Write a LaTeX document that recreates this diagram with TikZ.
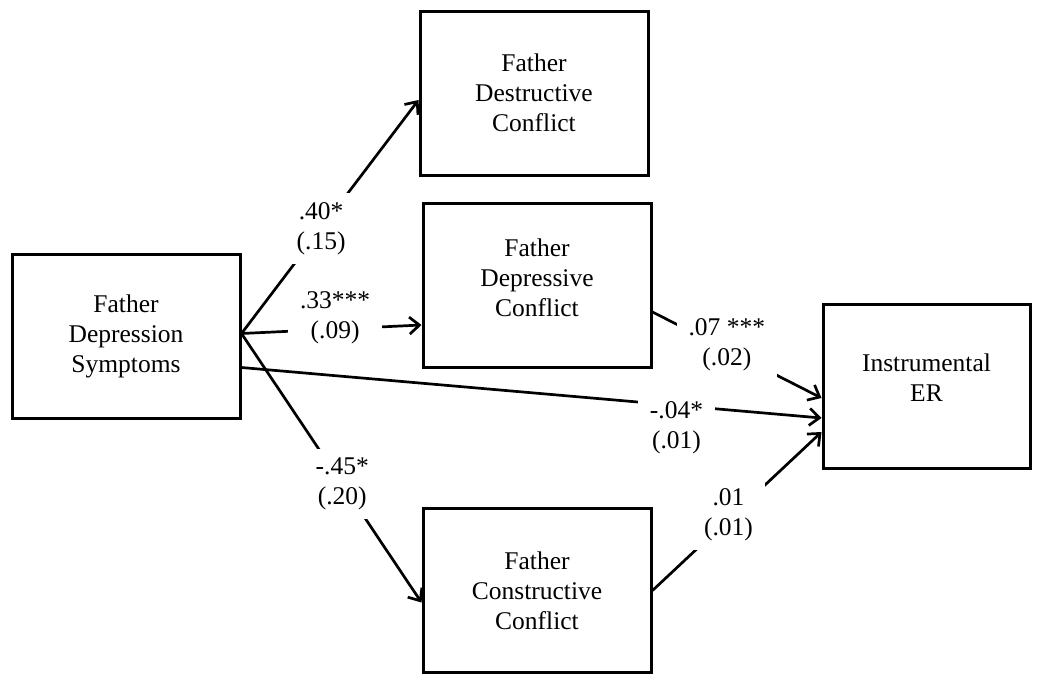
\documentclass[tikz,border=0pt]{standalone}
\usepackage{fontspec}
\setmainfont{Liberation Serif}
\usetikzlibrary{arrows.meta}
\begin{document}
\begin{tikzpicture}[x=1pt,y=-1pt,
  every node/.style={font=\fontsize{25.5}{30}\selectfont},
  var/.style={draw,line width=3pt,align=center,minimum width=228pt,minimum height=164pt,inner sep=0pt},
  arr/.style={line width=2.7pt,-{Straight Barb[length=10pt,width=17pt]}},
  lab/.style={fill=white,align=center,inner xsep=12pt,inner ysep=9pt}]
\useasboundingbox (0,0) rectangle (1044,673);
\node[var] (src) at (126,336.5) {Father\\Depression\\Symptoms};
\node[var] (destr) at (534,93) {Father\\Destructive\\Conflict};
\node[var,text depth=14pt] (depr) at (537,285) {Father\\Depressive\\Conflict};
\node[var] (cons) at (537,590.5) {Father\\Constructive\\Conflict};
\node[var,minimum width=207pt,text depth=16pt] (ier) at (926.5,386) {Instrumental\\ER};
\coordinate (s) at ([yshift=3pt]src.east);
\draw[arr] (s) -- ([yshift=-7pt]destr.west)
  node[lab,pos=0.45] (l1) {.40*\\(.15)};
\draw[arr] (s) -- ([yshift=-40pt]depr.west)
  node[lab,pos=0.52,yshift=11pt] (l2) {.33***\\(.09)};
\draw[arr] (s) -- ([yshift=-12pt]cons.west)
  node[lab,pos=0.56] (l3) {-.45*\\(.20)};
\draw[arr] ([yshift=-31pt]src.east) -- ([yshift=-32pt]ier.west)
  node[lab,pos=0.75,yshift=-22pt] (l4) {-.04*\\(.01)};
\draw[arr] ([yshift=-27pt]depr.east) -- ([yshift=-12pt]ier.west)
  node[lab,pos=0.44,yshift=5pt] (l5) {.07 ***\\(.02)};
\draw[arr] (cons.east) -- ([yshift=-46pt]ier.west)
  node[lab,pos=0.45,yshift=4pt] (l6) {.01\\(.01)};
\end{tikzpicture}
\end{document}
